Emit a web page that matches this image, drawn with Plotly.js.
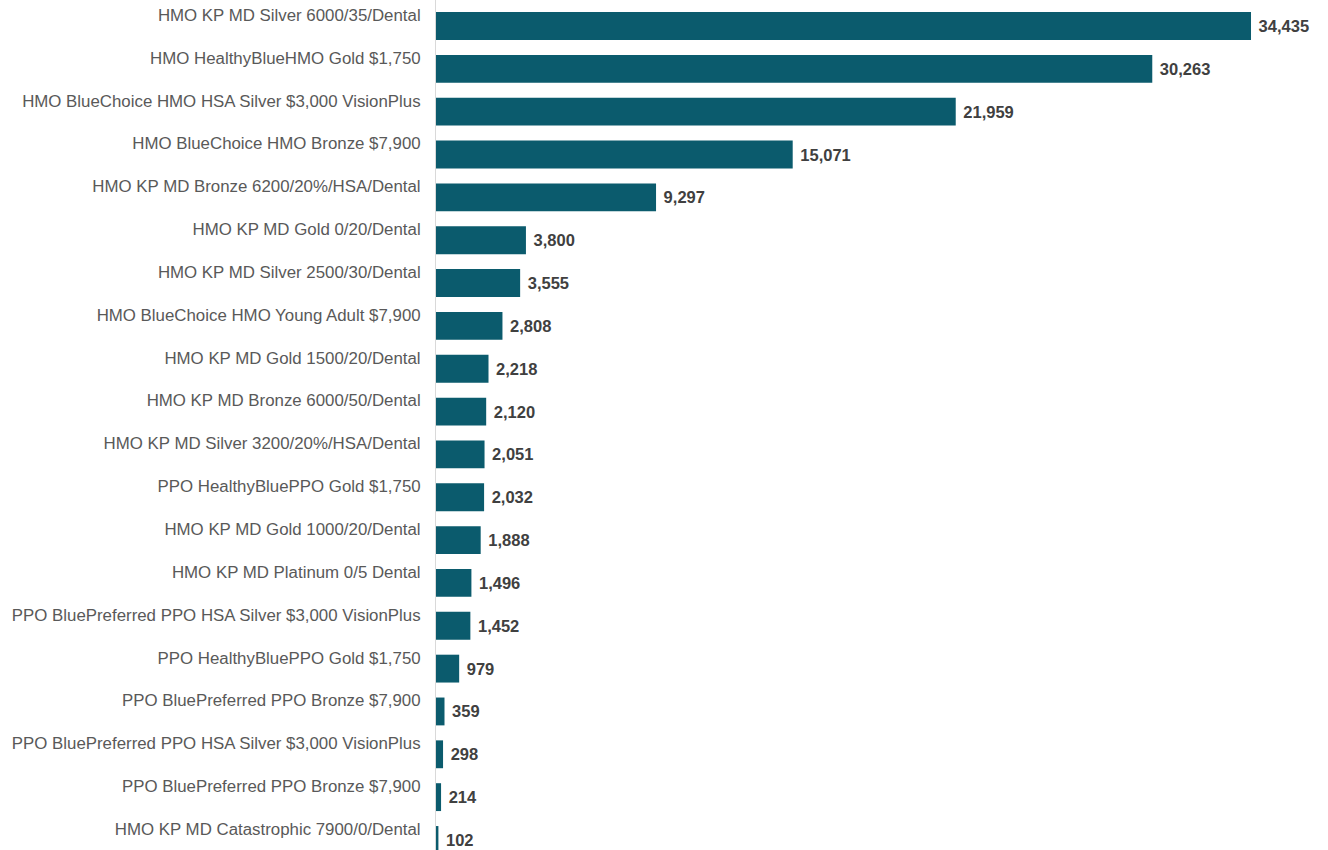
<!DOCTYPE html>
<html>
<head>
<meta charset="utf-8">
<script src="https://cdn.plot.ly/plotly-3.0.1.min.js"></script>
<style>html,body{margin:0;padding:0;background:#fff;}#chart{width:1328px;height:850px;}</style>
</head>
<body>
<div id="chart"></div>
<script>
const categories = [
  "HMO KP MD Silver 6000/35/Dental",
  "HMO HealthyBlueHMO Gold $1,750",
  "HMO BlueChoice HMO HSA Silver $3,000 VisionPlus",
  "HMO BlueChoice HMO Bronze $7,900",
  "HMO KP MD Bronze 6200/20%/HSA/Dental",
  "HMO KP MD Gold 0/20/Dental",
  "HMO KP MD Silver 2500/30/Dental",
  "HMO BlueChoice HMO Young Adult $7,900",
  "HMO KP MD Gold 1500/20/Dental",
  "HMO KP MD Bronze 6000/50/Dental",
  "HMO KP MD Silver 3200/20%/HSA/Dental",
  "PPO HealthyBluePPO Gold $1,750",
  "HMO KP MD Gold 1000/20/Dental",
  "HMO KP MD Platinum 0/5 Dental",
  "PPO BluePreferred PPO HSA Silver $3,000 VisionPlus",
  "PPO HealthyBluePPO Gold $1,750",
  "PPO BluePreferred PPO Bronze $7,900",
  "PPO BluePreferred PPO HSA Silver $3,000 VisionPlus",
  "PPO BluePreferred PPO Bronze $7,900",
  "HMO KP MD Catastrophic 7900/0/Dental"
];
const enrollment = [34435, 30263, 21959, 15071, 9297, 3800, 3555, 2808, 2218, 2120, 2051, 2032, 1888, 1496, 1452, 979, 359, 298, 214, 102];

const positions = categories.map((c, i) => i);
const valueLabels = enrollment.map(v => '\u00a0' + v.toLocaleString('en-US'));

const trace = {
  type: 'bar',
  orientation: 'h',
  x: enrollment,
  y: positions,
  text: valueLabels,
  textposition: 'outside',
  cliponaxis: false,
  textfont: {family: 'Liberation Sans, Arial, sans-serif', size: 16.5, color: '#404040', weight: 'bold'},
  marker: {color: '#0b5b6d'},
  hoverinfo: 'x+text'
};

const layout = {
  width: 1328,
  height: 850,
  margin: {l: 436, r: 0, t: 0, b: 0},
  paper_bgcolor: '#ffffff',
  plot_bgcolor: '#ffffff',
  bargap: 0.35,
  showlegend: false,
  font: {family: 'Liberation Sans, Arial, sans-serif'},
  xaxis: {
    range: [0, 37688],
    showgrid: false,
    zeroline: false,
    showticklabels: false,
    showline: false
  },
  yaxis: {
    range: [19.234, -0.607],
    tickvals: positions,
    ticktext: categories,
    showgrid: false,
    zeroline: false,
    showline: true,
    linecolor: '#d9d9d9',
    linewidth: 1,
    ticks: '',
    ticklabelshift: 11,
    ticklabelstandoff: 11,
    tickfont: {family: 'Liberation Sans, Arial, sans-serif', size: 16.85, color: '#595959'}
  }
};

Plotly.newPlot('chart', [trace], layout, {displayModeBar: false, staticPlot: true});
</script>
</body>
</html>
